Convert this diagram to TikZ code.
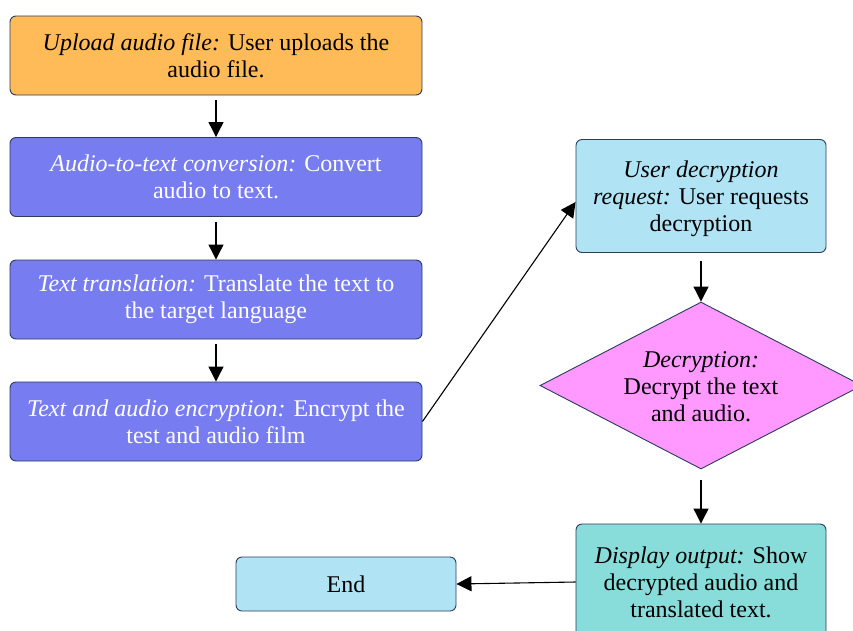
\documentclass[tikz,border=0pt]{standalone}
\usepackage{fontspec}
\setmainfont{Liberation Serif}
\usetikzlibrary{shapes.geometric,arrows.meta,calc}

\definecolor{edgenavy}{HTML}{2C3C5C}
\definecolor{uploadorange}{HTML}{FFBB57}
\definecolor{procblue}{HTML}{777CF0}
\definecolor{skyblue}{HTML}{B0E4F5}
\definecolor{decpink}{HTML}{FF99FF}
\definecolor{outteal}{HTML}{88DDDB}

\tikzset{
  box/.style={draw=edgenavy, line width=0.9pt, rounded corners=6pt, inner sep=0pt,
    align=center, font=\fontsize{24}{27}\selectfont},
  wide/.style={box, minimum width=412pt, minimum height=79pt},
  tall/.style={box, minimum width=250pt, minimum height=113pt},
  label/.style={align=center, inner sep=0pt, font=\fontsize{24}{27}\selectfont},
  flow/.style={draw=black, line width=1.1pt, -{Triangle[length=15pt,width=15pt]}},
}

\begin{document}
\begin{tikzpicture}[x=1pt, y=-1pt]
  \clip (0,0) rectangle (853,630);
  \fill[white] (0,0) rectangle (853,630);

  % left column of processing steps
  \node[wide, fill=uploadorange] (upload) at (216,55.5)
    {\textit{Upload audio file:} User uploads the\\audio file.};
  \node[wide, fill=procblue, text=white] (conv) at (216,177)
    {\textit{Audio-to-text conversion:} Convert\\audio to text.};
  \node[wide, fill=procblue, text=white] (trans) at (216,299.5)
    {\textit{Text translation:} Translate the text to\\the target language};
  \node[wide, fill=procblue, text=white] (enc) at (216,421.5)
    {\textit{Text and audio encryption:} Encrypt the\\test and audio film};

  % right column
  \node[tall, fill=skyblue] (req) at (701,196) {};
  \node[label] (reqtext) at (701,199)
    {\textit{User decryption}\\\textit{request:} User requests\\decryption};
  \node[diamond, draw=edgenavy, line width=0.9pt, fill=decpink, inner sep=0pt,
    minimum width=322pt, minimum height=167pt] (dec) at (701,385.5) {};
  \node[label] (dectext) at (701,387)
    {\textit{Decryption:}\\Decrypt the text\\and audio.};
  \node[box, fill=outteal, minimum width=250pt, minimum height=116pt] (disp) at (701,582)
    {\textit{Display output:} Show\\decrypted audio and\\translated text.};
  \node[box, fill=skyblue, minimum width=220pt, minimum height=54pt] (finish) at (346,584)
    {End};

  % connectors
  \draw[flow, shorten <=5pt] (upload.south) -- (conv.north);
  \draw[flow, shorten <=5pt] (conv.south) -- (trans.north);
  \draw[flow, shorten <=5pt] (trans.south) -- (enc.north);
  \draw[flow] (enc.east) -- ($(req.west)+(0,6)$);
  \draw[flow, shorten <=8pt] (req.south) -- (dec.north);
  \draw[flow, shorten <=11pt] (dec.south) -- (disp.north);
  \draw[flow] (disp.west) -- (finish.east);
\end{tikzpicture}
\end{document}
